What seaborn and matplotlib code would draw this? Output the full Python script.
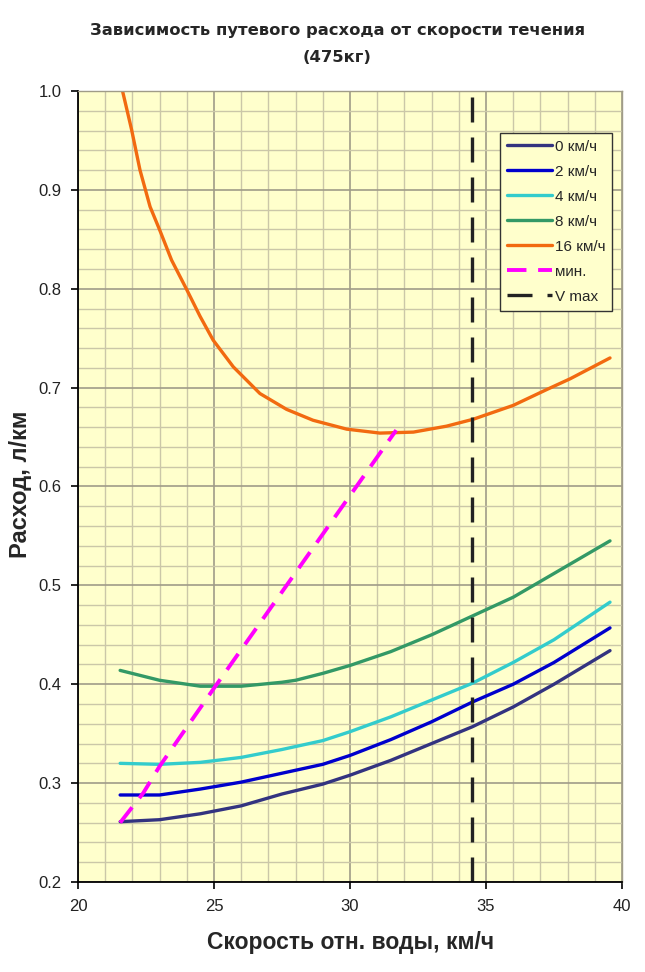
import numpy as np
import pandas as pd
import matplotlib
matplotlib.use('Agg')
import matplotlib.pyplot as plt
from matplotlib.ticker import FormatStrFormatter
import seaborn as sns

# Данные
v0 = [21.55, 23.0, 24.5, 26.0, 27.5, 29.0, 30.0, 31.5, 33.0, 34.5, 36.0, 37.5, 39.56]
r0 = [0.261, 0.263, 0.269, 0.277, 0.289, 0.299, 0.308, 0.323, 0.340, 0.357, 0.377, 0.400, 0.434]

v2 = [21.55, 23.0, 24.5, 26.0, 27.5, 29.0, 30.0, 31.5, 33.0, 34.5, 36.0, 37.5, 39.56]
r2 = [0.288, 0.288, 0.294, 0.301, 0.310, 0.319, 0.328, 0.344, 0.362, 0.382, 0.400, 0.422, 0.457]

v4 = [21.55, 23.0, 24.5, 26.0, 27.5, 29.0, 30.0, 31.5, 33.0, 34.5, 36.0, 37.5, 39.56]
r4 = [0.320, 0.319, 0.321, 0.326, 0.334, 0.343, 0.352, 0.367, 0.384, 0.401, 0.422, 0.445, 0.483]

v8 = [21.55, 23.0, 24.5, 26.0, 27.5, 28.0, 29.0, 30.0, 31.5, 33.0, 34.5, 36.0, 37.5, 39.56]
r8 = [0.414, 0.404, 0.398, 0.398, 0.402, 0.404, 0.411, 0.419, 0.433, 0.450, 0.469, 0.488, 0.512, 0.545]

v16 = [21.57, 21.97, 22.28, 22.65, 23.01, 23.44, 24.0, 24.49, 24.97, 25.71, 26.69, 27.67,
       28.64, 29.88, 31.1, 32.33, 33.55, 34.53, 36.0, 37.23, 38.1, 39.56]
r16 = [1.008, 0.961, 0.920, 0.883, 0.859, 0.829, 0.799, 0.772, 0.748, 0.721, 0.694, 0.678,
       0.667, 0.658, 0.654, 0.655, 0.661, 0.668, 0.682, 0.698, 0.709, 0.730]

v_min = [21.55, 22.4, 23.0, 25.0, 31.7]
r_min = [0.260, 0.290, 0.317, 0.396, 0.657]

v_max = 34.5

x_major = [20, 25, 30, 35, 40]
y_major = [0.2, 0.3, 0.4, 0.5, 0.6, 0.7, 0.8, 0.9, 1.0]

series = [
    ('0 км/ч', v0, r0, '#333380'),
    ('2 км/ч', v2, r2, '#0000cc'),
    ('4 км/ч', v4, r4, '#33cccc'),
    ('8 км/ч', v8, r8, '#339966'),
    ('16 км/ч', v16, r16, '#f26a10'),
]

sns.set_style('white')
plt.rcParams['font.family'] = ['Liberation Sans', 'DejaVu Sans']

fig = plt.figure(figsize=(6.45, 9.72), dpi=100)
ax = fig.add_axes([0.1209, 0.0926, 0.8434, 0.8138])
ax.set_facecolor('#ffffcc')

for name, xs, ys, col in series:
    sns.lineplot(x=xs, y=ys, ax=ax, color=col, linewidth=2.4, label=name,
                 sort=False, estimator=None)

sns.lineplot(x=v_min, y=r_min, ax=ax, color='#ff00ff', linewidth=2.8, label='мин.',
             sort=False, estimator=None, linestyle=(0, (5, 3)))
ax.axvline(v_max, color='#222222', linewidth=2.4, linestyle=(0, (7.5, 4.5)), label='V max')

ax.set_xlim(20, 40)
ax.set_ylim(0.2, 1.0)
ax.set_xticks(x_major)
ax.set_yticks(y_major)
ax.set_xticks(np.arange(20, 41, 1), minor=True)
ax.set_yticks(np.linspace(0.2, 1.0, 41), minor=True)
ax.grid(which='minor', axis='both', color='#cbc7a8', linewidth=1.0)
ax.grid(which='major', axis='both', color='#a09c88', linewidth=1.2)
ax.set_axisbelow(True)

for s in ['left', 'bottom']:
    ax.spines[s].set_color('black')
    ax.spines[s].set_linewidth(1.3)
for s in ['top', 'right']:
    ax.spines[s].set_color('#a09c88')
    ax.spines[s].set_linewidth(1.0)

ax.tick_params(which='major', direction='out', length=5, width=1.2, color='black',
               labelsize=12, labelcolor='#222222', left=True, bottom=True, pad=7)
ax.tick_params(which='minor', length=0)
ax.yaxis.set_major_formatter(FormatStrFormatter('%.1f'))
ax.xaxis.set_major_formatter(FormatStrFormatter('%d'))

fig.text(0.543, 0.030, 'Скорость отн. воды, км/ч', ha='center', va='center',
         fontsize=16.5, fontweight='bold')
fig.text(0.032, 0.502, 'Расход, л/км', ha='center', va='center', rotation=90,
         fontsize=17, fontweight='bold')

fig.text(0.523, 0.969, 'Зависимость путевого расхода от скорости течения',
         ha='center', va='center', fontsize=11.8, fontweight='bold', family='DejaVu Sans')
fig.text(0.523, 0.941, '(475кг)', ha='center', va='center', fontsize=11.8,
         fontweight='bold', family='DejaVu Sans')

leg = ax.legend(loc='upper right', bbox_to_anchor=(0.982, 0.947), fontsize=11,
                handlelength=2.9, labelspacing=0.72, borderpad=0.45, handletextpad=0.2,
                borderaxespad=0, frameon=True, fancybox=False, facecolor='#ffffcc',
                edgecolor='#333333', framealpha=1.0)
leg.get_frame().set_linewidth(1.0)

fig.savefig('out.png', dpi=100)
